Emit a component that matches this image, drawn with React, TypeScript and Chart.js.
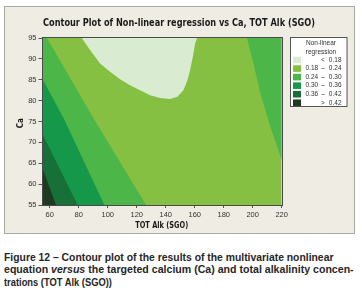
import React, { useEffect, useLayoutEffect, useRef } from "react";
import { Chart, registerables } from "chart.js";

Chart.register(...registerables);

// ---- data ----
const chartTitle = "Contour Plot of Non-linear regression vs Ca, TOT Alk (SGO)";
const xTitle = "TOT Alk (SGO)";
const yTitle = "Ca";
const xTicks = [60, 80, 100, 120, 140, 160, 180, 200, 220];
const yTicks = [55, 60, 65, 70, 75, 80, 85, 90, 95];
const xRange = [55, 220];
const yRange = [55, 95];

const legendTitle = ["Non-linear", "regression"];
const levelLow = ["", "0.18", "0.24", "0.30", "0.36", ""];
const levelSep = ["<", "–", "–", "–", "–", ">"];
const levelHigh = ["0.18", "0.24", "0.30", "0.36", "0.42", "0.42"];
const levelColors = ["#d9ebd1", "#86c043", "#4cb748", "#16984b", "#187039", "#1e3b21"];

// contour boundaries (x = TOT Alk, y = Ca)
const lowRegionX = [82.1, 87.8, 94.7, 101.6, 108.5, 115.4, 122.3, 129.2, 136.1, 143.0, 148.1, 152.2, 155.0, 156.8, 158.7, 160.3, 161.7];
const lowRegionY = [95, 92.1, 88.9, 86.9, 85.1, 83.7, 82.5, 81.3, 80.6, 80.4, 80.9, 82.5, 84.9, 87.3, 90.5, 93.7, 95];
const rightEdgeX = [196.0, 200.5, 205.2, 212.1, 220];
const rightEdgeY = [95, 88.9, 81.8, 73.8, 65.8];
const edge24X = [58.1, 90.8, 126.5];
const edge24Y = [95, 75.4, 55];
const edge30X = [55, 70.1, 97.7];
const edge30Y = [85.2, 75.4, 55];
const edge36X = [55, 79.3];
const edge36Y = [72.0, 55];
const edge42X = [55, 64.3];
const edge42Y = [63.8, 55];

const captionLines = [
  ["Figure 12 – Contour plot of the results of the multivariate nonlinear"],
  ["equation ", "versus", " the targeted calcium (Ca) and total alkalinity concen-"],
  ["trations (TOT Alk (SGO))"],
];
// ---------------

const pts = (xs: number[], ys: number[]) => xs.map((x, i) => ({ x, y: ys[i] }));

function fitText(ctx: CanvasRenderingContext2D, text: string, x: number, y: number, w: number, align: CanvasTextAlign) {
  const m = ctx.measureText(text).width;
  const s = w / m;
  ctx.save();
  ctx.translate(x, y);
  ctx.scale(s, 1);
  ctx.textAlign = align;
  ctx.fillText(text, 0, 0);
  ctx.restore();
}

export default function App() {
  const canvasRef = useRef<HTMLCanvasElement>(null);
  const capRefs = useRef<(HTMLDivElement | null)[]>([]);

  useLayoutEffect(() => {
    const widths = [329, 350, 108];
    capRefs.current.forEach((el, i) => {
      if (!el) return;
      const w = el.offsetWidth;
      el.style.transform = `scaleX(${widths[i] / w})`;
    });
  }, []);

  useEffect(() => {
    const [xMin, xMax] = xRange;
    const [yMin, yMax] = yRange;

    const poly = (data: { x: number; y: number }[], color: string) => ({
      data,
      showLine: true,
      fill: "shape" as const,
      backgroundColor: color,
      borderColor: color,
      borderWidth: 0,
      pointRadius: 0,
      tension: 0,
    });

    const datasets = [
      poly([...pts(edge42X, edge42Y), { x: xMin, y: yMin }], levelColors[5]),
      poly([...pts(edge36X, edge36Y), { x: xMin, y: yMin }], levelColors[4]),
      poly([...pts(edge30X, edge30Y), { x: xMin, y: yMin }], levelColors[3]),
      poly([...pts(edge24X, edge24Y), { x: xMin, y: yMin }, { x: xMin, y: yMax }], levelColors[2]),
      poly([...pts(rightEdgeX, rightEdgeY), { x: xMax, y: yMax }], levelColors[2]),
      poly(pts(lowRegionX, lowRegionY), levelColors[0]),
      poly(
        [
          { x: xMin, y: yMin },
          { x: xMax, y: yMin },
          { x: xMax, y: yMax },
          { x: xMin, y: yMax },
        ],
        levelColors[1]
      ),
    ];

    const decor = {
      id: "decor",
      beforeDraw(chart: any) {
        const ctx = chart.ctx as CanvasRenderingContext2D;
        ctx.save();
        ctx.fillStyle = "#ffffff";
        ctx.fillRect(0, 0, chart.width, chart.height);
        ctx.fillStyle = "#efede3";
        ctx.fillRect(4, 6, 351, 228);
        ctx.strokeStyle = "#a9a9a4";
        ctx.lineWidth = 1;
        ctx.strokeRect(4.5, 6.5, 350, 227);
        ctx.restore();
      },
      afterDraw(chart: any) {
        const ctx = chart.ctx as CanvasRenderingContext2D;
        const a = chart.chartArea;
        ctx.save();
        // plot frame
        ctx.strokeStyle = "#4a4a4a";
        ctx.lineWidth = 1;
        ctx.strokeRect(Math.round(a.left) - 0.5, Math.round(a.top) - 0.5, Math.round(a.right - a.left) + 1, Math.round(a.bottom - a.top) + 1);

        // title
        ctx.fillStyle = "#1a1a1a";
        ctx.textBaseline = "middle";
        ctx.font = "bold 10.5px 'DejaVu Sans'";
        fitText(ctx, chartTitle, 179, 23.5, 272, "center");

        // axis titles
        ctx.font = "bold 8.5px 'DejaVu Sans'";
        fitText(ctx, xTitle, 161.7, 225.5, 53, "center");
        ctx.save();
        ctx.translate(21, 123.3);
        ctx.rotate(-Math.PI / 2);
        ctx.font = "bold 8.5px 'DejaVu Sans'";
        fitText(ctx, yTitle, 0, 0, 10, "center");
        ctx.restore();

        // legend
        const lx = 290.5, ly = 37.5, lw = 56.5, lh = 69;
        ctx.fillStyle = "#ffffff";
        ctx.fillRect(lx, ly, lw, lh);
        ctx.strokeStyle = "#555555";
        ctx.strokeRect(lx, ly, lw, lh);
        ctx.fillStyle = "#333333";
        ctx.font = "6.5px 'Liberation Sans'";
        ctx.textAlign = "center";
        ctx.fillText(legendTitle[0], 321, 43.5);
        ctx.fillText(legendTitle[1], 321, 51.8);
        for (let i = 0; i < levelColors.length; i++) {
          const cy = 60 + i * 8.55;
          ctx.fillStyle = levelColors[i];
          ctx.fillRect(293, cy - 3.3, 8, 6.6);
          ctx.fillStyle = "#333333";
          ctx.textAlign = "left";
          if (levelLow[i]) ctx.fillText(levelLow[i], 305.5, cy);
          ctx.textAlign = "center";
          ctx.fillText(levelSep[i], 323, cy);
          ctx.textAlign = "right";
          ctx.fillText(levelHigh[i], 341.5, cy);
        }
        ctx.restore();
      },
    };

    const tickFont = { family: "'Liberation Sans', Arial, sans-serif", size: 7.5 };

    const chart = new Chart(canvasRef.current!, {
      type: "scatter",
      data: { datasets: datasets as any },
      options: {
        animation: false,
        responsive: false,
        devicePixelRatio: 1,
        events: [],
        layout: { padding: { left: 0, right: 80.3, top: 38, bottom: 0 } },
        plugins: {
          legend: { display: false },
          tooltip: { enabled: false },
          filler: { propagate: false },
        },
        scales: {
          x: {
            type: "linear",
            min: xMin,
            max: xMax,
            afterBuildTicks: (s: any) => {
              s.ticks = xTicks.map((v) => ({ value: v }));
            },
            afterFit: (s: any) => {
              s.height = 35;
            },
            grid: { drawOnChartArea: false, drawTicks: true, tickLength: 3, color: "#555555" },
            border: { display: false },
            ticks: { font: tickFont, color: "#333333", padding: 2, maxRotation: 0, autoSkip: false },
          },
          y: {
            type: "linear",
            min: yMin,
            max: yMax,
            afterBuildTicks: (s: any) => {
              s.ticks = yTicks.map((v) => ({ value: v }));
            },
            afterFit: (s: any) => {
              s.width = 42.5;
            },
            grid: { drawOnChartArea: false, drawTicks: true, tickLength: 4, color: "#555555" },
            border: { display: false },
            ticks: { font: tickFont, color: "#333333", padding: 2, autoSkip: false },
          },
        },
      },
      plugins: [decor],
    });
    return () => chart.destroy();
  }, []);

  return (
    <div style={{ position: "absolute", left: 0, top: 0, width: 362, height: 308, background: "#ffffff" }}>
      <canvas ref={canvasRef} width={362} height={240} style={{ position: "absolute", left: 0, top: 0 }} />
      {captionLines.map((parts, i) => (
        <div
          key={i}
          ref={(el) => {
            capRefs.current[i] = el;
          }}
          style={{
            position: "absolute",
            left: 4,
            top: 250.5 + i * 12.7,
            whiteSpace: "nowrap",
            transformOrigin: "0 0",
            font: "bold 11.5px 'Liberation Sans', Arial, sans-serif",
            lineHeight: "13px",
            color: "#262626",
          }}
        >
          {parts.map((p, j) => (p === "versus" ? <i key={j}>{p}</i> : <span key={j}>{p}</span>))}
        </div>
      ))}
    </div>
  );
}
